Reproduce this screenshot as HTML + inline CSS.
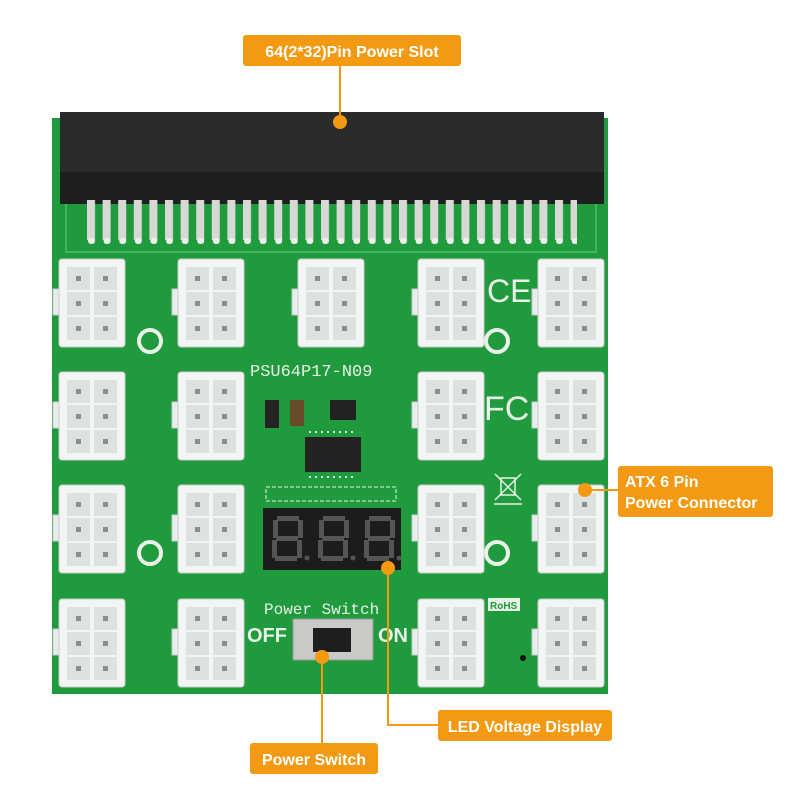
<!DOCTYPE html>
<html><head><meta charset="utf-8"><style>
html,body{margin:0;padding:0;background:#fff;}
svg{display:block}
.lbl{font-family:"Liberation Sans",sans-serif;font-weight:bold;fill:#fff}
</style></head><body>
<svg width="800" height="800" viewBox="0 0 800 800" xmlns="http://www.w3.org/2000/svg">
<defs>
<g id="c">
  <rect x="-6" y="30" width="10" height="26" fill="#e9ecec" stroke="#c8cccc"/>
  <rect x="0" y="0" width="66" height="88" rx="3" fill="#f3f5f5" stroke="#c9cdcd"/>
  <rect x="8" y="8" width="23" height="23" fill="#dde2e1"/><rect x="35" y="8" width="23" height="23" fill="#dde2e1"/>
  <rect x="8" y="33" width="23" height="23" fill="#dde2e1"/><rect x="35" y="33" width="23" height="23" fill="#dde2e1"/>
  <rect x="8" y="58" width="23" height="23" fill="#dde2e1"/><rect x="35" y="58" width="23" height="23" fill="#dde2e1"/>
  <rect x="17" y="17" width="5" height="5" fill="#8a8f8d"/><rect x="44" y="17" width="5" height="5" fill="#8a8f8d"/>
  <rect x="17" y="42" width="5" height="5" fill="#8a8f8d"/><rect x="44" y="42" width="5" height="5" fill="#8a8f8d"/>
  <rect x="17" y="67" width="5" height="5" fill="#8a8f8d"/><rect x="44" y="67" width="5" height="5" fill="#8a8f8d"/>
</g>
<g id="d" fill="#555">
  <rect x="5" y="0" width="22" height="5"/>
  <rect x="4" y="20" width="22" height="5"/>
  <rect x="3" y="40" width="22" height="5"/>
  <rect x="1" y="4" width="5" height="18"/><rect x="26" y="4" width="5" height="18"/>
  <rect x="0" y="24" width="5" height="18"/><rect x="25" y="24" width="5" height="18"/>
  <circle cx="35" cy="42" r="2.5"/>
</g>
<pattern id="pins" x="87" y="0" width="15.6" height="800" patternUnits="userSpaceOnUse">
  <rect x="0" y="200" width="8" height="40" fill="#d8d8d4"/>
  <rect x="1" y="238" width="7" height="6" rx="3" fill="#eee"/>
</pattern>
</defs>
<rect x="52" y="118" width="556" height="576" fill="#1f9a3c"/>
<rect x="66" y="200" width="530" height="52" fill="none" stroke="#4fc06a" stroke-width="1.5"/>
<rect x="60" y="112" width="544" height="92" fill="#1e1f20"/>
<rect x="60" y="112" width="544" height="60" fill="#2a2b2c"/>
<rect x="87" y="200" width="490" height="46" fill="url(#pins)"/>
<use href="#c" x="59" y="259"/><use href="#c" x="178" y="259"/><use href="#c" x="298" y="259"/><use href="#c" x="418" y="259"/><use href="#c" x="538" y="259"/>
<use href="#c" x="59" y="372"/><use href="#c" x="178" y="372"/><use href="#c" x="418" y="372"/><use href="#c" x="538" y="372"/>
<use href="#c" x="59" y="485"/><use href="#c" x="178" y="485"/><use href="#c" x="418" y="485"/><use href="#c" x="538" y="485"/>
<use href="#c" x="59" y="599"/><use href="#c" x="178" y="599"/><use href="#c" x="418" y="599"/><use href="#c" x="538" y="599"/>
<g fill="none" stroke="#e8f2e8" stroke-width="4">
<circle cx="150" cy="341" r="11"/><circle cx="497" cy="341" r="11"/><circle cx="150" cy="553" r="11"/><circle cx="497" cy="553" r="11"/>
</g>
<text x="250" y="376" font-family="Liberation Mono,monospace" font-size="17" fill="#e8f2e8">PSU64P17-N09</text>
<text x="487" y="302" font-family="Liberation Sans,sans-serif" font-size="32" fill="#e8f2e8">CE</text>
<text x="484" y="420" font-family="Liberation Sans,sans-serif" font-size="34" fill="#e8f2e8">FC</text>
<text x="264" y="614" font-family="Liberation Mono,monospace" font-size="16" fill="#e8f2e8">Power Switch</text>
<text x="247" y="642" font-family="Liberation Sans,sans-serif" font-size="20" font-weight="bold" fill="#e8f2e8">OFF</text>
<text x="378" y="642" font-family="Liberation Sans,sans-serif" font-size="20" font-weight="bold" fill="#e8f2e8">ON</text>
<rect x="488" y="598" width="32" height="13" fill="#e8f2e8"/>
<text x="490" y="609" font-family="Liberation Sans,sans-serif" font-size="10" font-weight="bold" fill="#1f9a3c">RoHS</text>
<g stroke="#e8f2e8" stroke-width="1.5" fill="none"><rect x="501" y="478" width="14" height="17"/><line x1="495" y1="474" x2="521" y2="500"/><line x1="521" y1="474" x2="495" y2="500"/><line x1="494" y1="504" x2="522" y2="504"/></g>
<circle cx="523" cy="658" r="3" fill="#111"/>
<rect x="265" y="400" width="14" height="28" fill="#222"/>
<rect x="290" y="400" width="14" height="26" fill="#6b4a2a"/>
<rect x="330" y="400" width="26" height="20" fill="#222"/>
<rect x="305" y="437" width="56" height="35" fill="#222"/>
<g stroke="#ddd" stroke-width="2"><line x1="309" y1="432" x2="357" y2="432" stroke-dasharray="2 4"/><line x1="309" y1="477" x2="357" y2="477" stroke-dasharray="2 4"/></g>
<rect x="266" y="487" width="130" height="14" fill="none" stroke="#e8f2e8" stroke-dasharray="4 2"/>
<rect x="263" y="508" width="138" height="62" fill="#1c1c1c"/>
<use href="#d" x="272" y="516"/><use href="#d" x="318" y="516"/><use href="#d" x="364" y="516"/>
<rect x="293" y="619" width="80" height="41" fill="#c9c9c6" stroke="#999"/>
<rect x="313" y="628" width="38" height="24" fill="#1e1e1e"/>
<g stroke="#f39a12" stroke-width="2" fill="none">
<line x1="340" y1="65" x2="340" y2="122"/>
<line x1="585" y1="490" x2="618" y2="490"/>
<polyline points="388,568 388,725 438,725"/>
<polyline points="322,657 322,758 378,758"/>
</g>
<g fill="#f39a12">
<circle cx="340" cy="122" r="7"/><circle cx="585" cy="490" r="7"/><circle cx="388" cy="568" r="7"/><circle cx="322" cy="657" r="7"/>
<rect x="243" y="35" width="218" height="31" rx="3"/>
<rect x="618" y="466" width="155" height="51" rx="3"/>
<rect x="438" y="710" width="174" height="31" rx="3"/>
<rect x="250" y="743" width="128" height="31" rx="3"/>
</g>
<text class="lbl" x="352" y="57" font-size="16" text-anchor="middle">64(2*32)Pin Power Slot</text>
<text class="lbl" x="625" y="487" font-size="16">ATX 6 Pin</text>
<text class="lbl" x="625" y="508" font-size="16">Power Connector</text>
<text class="lbl" x="525" y="732" font-size="16" text-anchor="middle">LED Voltage Display</text>
<text class="lbl" x="314" y="765" font-size="16" text-anchor="middle">Power Switch</text>
</svg>
</body></html>
